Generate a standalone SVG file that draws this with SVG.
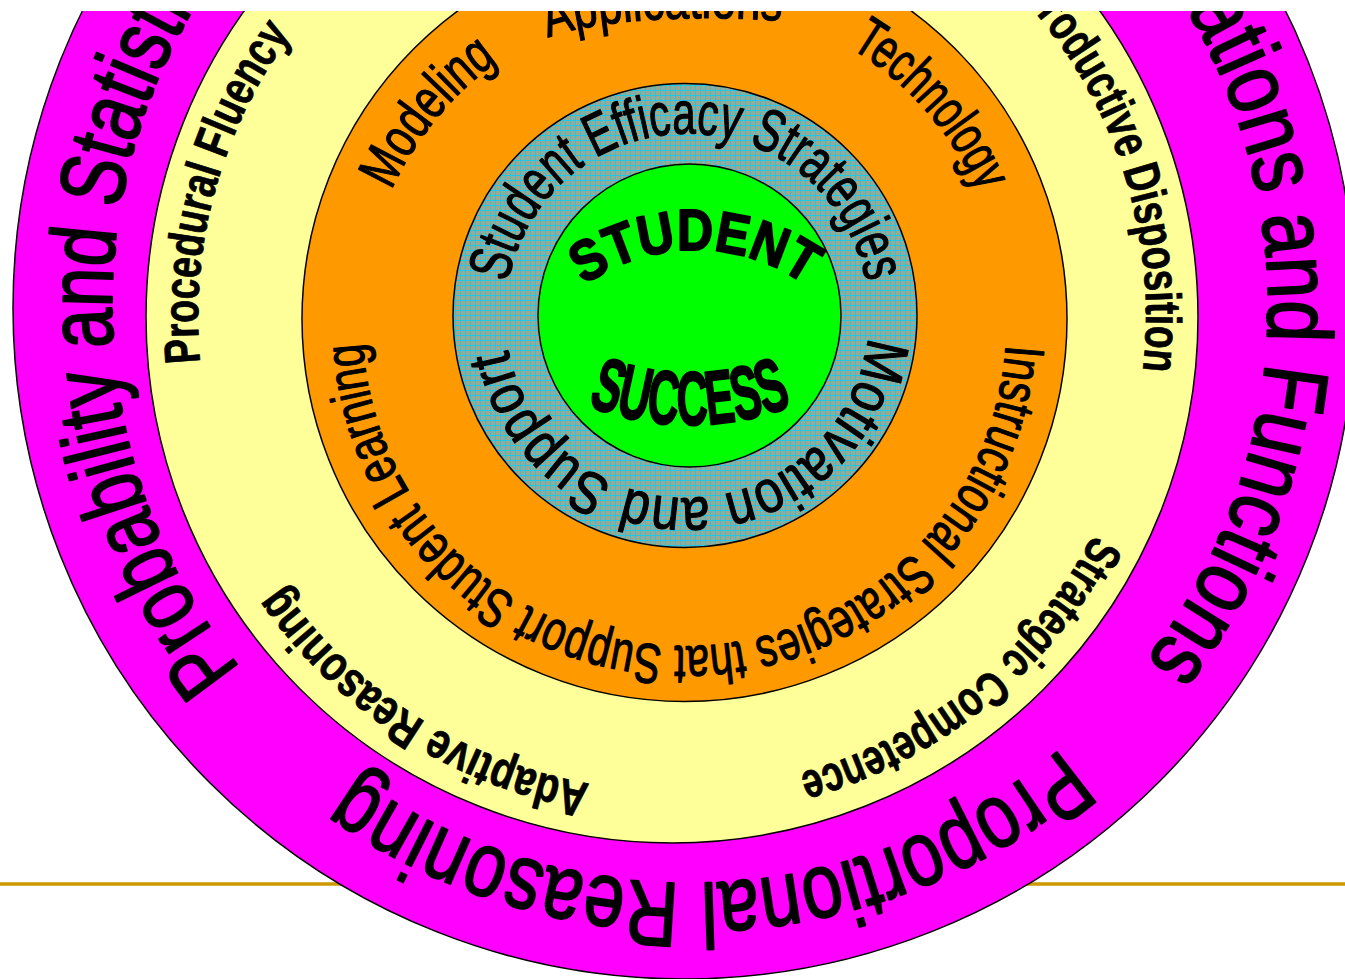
<svg xmlns="http://www.w3.org/2000/svg" width="1345" height="979" viewBox="0 0 1345 979">
<defs>
<pattern id="tex" width="5" height="5" patternUnits="userSpaceOnUse">
<rect width="5" height="5" fill="#9FA88F"/>
<path d="M0 0.5H5M0.5 0V5" stroke="#1EC8E8" stroke-width="1"/>
</pattern>
<path id="pMagL" d="M240.8,668.7 A578,578 0 0 1 339.7,-154.8"/>
<path id="pMagB" d="M1061.5,747.8 A578,578 0 0 1 231.4,656.9"/>
<path id="pMagR" d="M1119.5,-81.8 A578,578 0 0 1 1037.9,766.6"/>
<path id="pYelPF" d="M200.2,362.4 A474,474 0 0 1 376.9,-54"/>
<path id="pYelPD" d="M1019.8,-5.1 A474,474 0 0 1 1113,490.7"/>
<path id="pYelSC" d="M1093.2,534.4 A474,474 0 0 1 677.8,791"/>
<path id="pYelAR" d="M589.7,783.8 A474,474 0 0 1 226.6,479.1"/>
<path id="pOrIS" d="M1005.8,344.8 A322,322 0 1 1 366.2,275.3"/>
<path id="pOrMo" d="M391.5,190.5 A322,322 0 0 1 574.4,21.4"/>
<path id="pOrAp" d="M548,38 C600,18 700,14 800,22 L840,26"/>
<path id="pOrTe" d="M850.3,48 A322,322 0 0 1 1001.6,268.1"/>
<path id="pTeSE" d="M508,282.6 A182,182 0 0 1 869,316.8"/>
<path id="pTeMS" d="M867.8,336.7 A182,182 0 0 1 505.1,322.8"/>
<path id="pGrSt" d="M538.5,331.4 A191,191 0 0 1 851.5,331.4"/>
<path id="pGrSu" d="M489.2,341.8 A284,284 0 0 0 890.8,341.8"/>
</defs>
<style>
.ring{stroke:#000;stroke-width:1.5}
.t{font-family:"Liberation Sans Narrow","Liberation Sans",Arial,sans-serif;fill:#000;stroke:#000;stroke-linejoin:round}
.mag{font-size:92px;stroke-width:2}
.yel{font-size:50px;font-weight:bold;stroke-width:0.8}
.ora{font-size:56px;stroke-width:1.2}
.tea{font-size:60px;stroke-width:1.2}
.grn{font-family:"Liberation Sans",Arial,sans-serif;font-weight:bold;fill:#000;stroke:#000;stroke-width:2;stroke-linejoin:round}
</style>
<rect width="1345" height="979" fill="#fff"/>
<g id="rule">
<line x1="0" y1="884" x2="1345" y2="884" stroke="#CC9900" stroke-width="3.5"/>
</g>
<g id="ring-magenta">
<circle class="ring" cx="684" cy="308" r="671" fill="#FF00FF"/>
<text class="t mag"><textPath href="#pMagL" textLength="773" lengthAdjust="spacingAndGlyphs">Probability and Statistics</textPath></text>
<text class="t mag"><textPath href="#pMagB" textLength="762" lengthAdjust="spacingAndGlyphs">Proportional Reasoning</textPath></text>
<text class="t mag"><textPath href="#pMagR" textLength="807" lengthAdjust="spacingAndGlyphs">Relations and Functions</textPath></text>
</g>
<g id="ring-yellow">
<circle class="ring" cx="672" cy="317" r="526" fill="#FFFF99"/>
<text class="t yel"><textPath href="#pYelPF" textLength="348" lengthAdjust="spacingAndGlyphs">Procedural Fluency</textPath></text>
<text class="t yel"><textPath href="#pYelPD" textLength="408" lengthAdjust="spacingAndGlyphs">Productive Disposition</textPath></text>
<text class="t yel"><textPath href="#pYelSC" textLength="390" lengthAdjust="spacingAndGlyphs">Strategic Competence</textPath></text>
<text class="t yel"><textPath href="#pYelAR" textLength="376" lengthAdjust="spacingAndGlyphs">Adaptive Reasoning</textPath></text>
</g>
<g id="ring-orange">
<circle class="ring" cx="684.5" cy="319" r="382.5" fill="#FF9900"/>
<text class="t ora"><textPath href="#pOrIS" textLength="972" lengthAdjust="spacingAndGlyphs">Instructional Strategies that Support Student Learning</textPath></text>
<text class="t ora"><textPath href="#pOrMo" textLength="169" lengthAdjust="spacingAndGlyphs">Modeling</textPath></text>
<text class="t ora"><textPath href="#pOrAp" textLength="236" lengthAdjust="spacingAndGlyphs">Applications</textPath></text>
<text class="t ora"><textPath href="#pOrTe" textLength="196" lengthAdjust="spacingAndGlyphs">Technology</textPath></text>
</g>
<g id="ring-teal">
<circle class="ring" cx="685" cy="315.5" r="232" fill="url(#tex)"/>
<text class="t tea"><textPath href="#pTeSE" textLength="505" lengthAdjust="spacingAndGlyphs">Student Efficacy Strategies</textPath></text>
<text class="t tea"><textPath href="#pTeMS" textLength="517" lengthAdjust="spacingAndGlyphs">Motivation and Support</textPath></text>
</g>
<g id="core-green">
<circle class="ring" cx="689.5" cy="315.5" r="151.5" fill="#00FF00"/>
<text class="grn" font-size="57"><textPath href="#pGrSt" startOffset="50%" text-anchor="middle" textLength="236" lengthAdjust="spacingAndGlyphs">STUDENT</textPath></text>
<text class="grn" font-size="76"><textPath href="#pGrSu" startOffset="50%" text-anchor="middle" textLength="210" lengthAdjust="spacingAndGlyphs">SUCCESS</textPath></text>
</g>
<rect id="top-band" x="0" y="0" width="1345" height="11" fill="#fff"/>
</svg>
